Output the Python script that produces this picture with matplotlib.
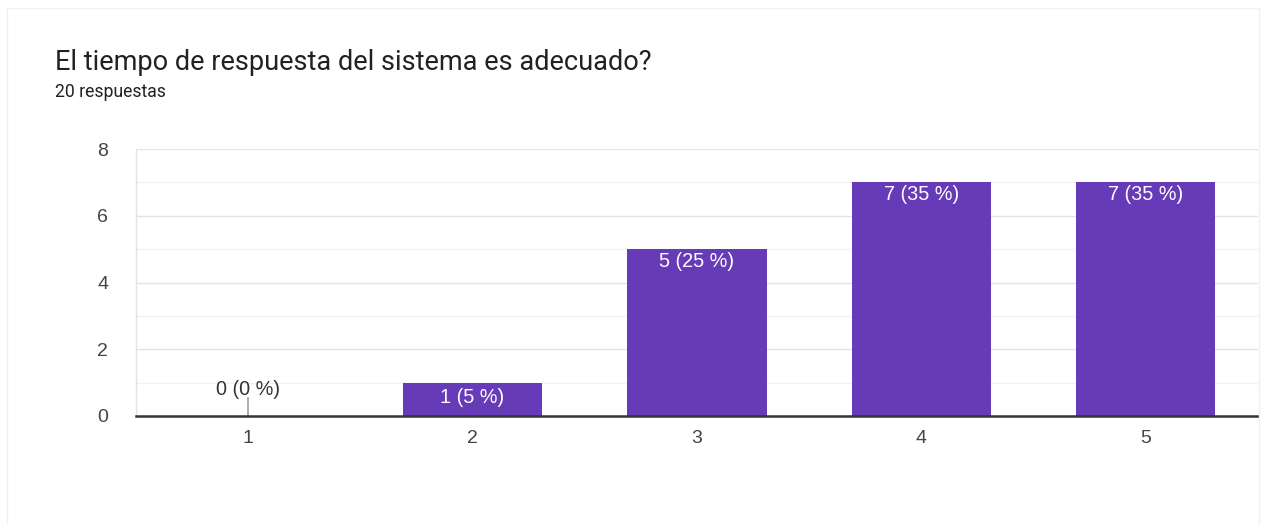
import matplotlib
matplotlib.use("Agg")
import matplotlib.pyplot as plt
from matplotlib.patches import Rectangle

# ── Data ──────────────────────────────────────────────────────────────────────
categories = ["1", "2", "3", "4", "5"]
counts = [0, 1, 5, 7, 7]
total_responses = 20
title = "El tiempo de respuesta del sistema es adecuado?"
subtitle = f"{total_responses} respuestas"

BAR_COLOR = "#673AB7"
TEXT_DARK = "#202124"
TICK_COLOR = "#444444"

fig = plt.figure(figsize=(12.61, 5.24), dpi=100)
fig.patch.set_facecolor("white")

# faint card border
fig.patches.append(Rectangle((7 / 1261, -0.01), 1252 / 1261, 1 - 8 / 524 + 0.01,
                             transform=fig.transFigure, fill=False,
                             edgecolor="#f0f0f0", linewidth=1.0))

fig.text(55 / 1261, 1 - 63 / 524, title, fontsize=19.5, family="Roboto",
         color=TEXT_DARK, va="center", ha="left")
fig.text(55 / 1261, 1 - 92 / 524, subtitle, fontsize=12.7, family="Roboto",
         color=TEXT_DARK, va="center", ha="left")

ax = fig.add_axes([136 / 1261, 108 / 524, 1122 / 1261, 267 / 524])
x = list(range(1, len(categories) + 1))

# grid lines: major at even values, minor at odd values
for v in range(1, 9):
    ax.axhline(v, color="#e3e3e3" if v % 2 == 0 else "#f1f1f1",
               linewidth=1.0, zorder=0)

bars = ax.bar(x, counts, width=0.62, color=BAR_COLOR, zorder=2)

for xi, c in zip(x, counts):
    pct = round(c / total_responses * 100)
    label = f"{c} ({pct} %)"
    if c == 0:
        ax.plot([xi, xi], [0, 0.55], color="#9e9e9e", linewidth=1.2, zorder=3)
        ax.text(xi, 0.8, label, ha="center", va="center", fontsize=14.3,
                family="Liberation Sans", color="#333333", zorder=4)
    else:
        # short bars get the label centred, tall ones near the top
        y_lab = c - 0.36 if c > 1 else c / 2 + 0.05
        ax.text(xi, y_lab, label, ha="center", va="center", fontsize=14.3,
                family="Liberation Sans", color="white", zorder=4)

ax.set_xlim(0.5, 5.5)
ax.set_ylim(0, 8)
ax.set_xticks(x)
ax.set_xticklabels(categories)
ax.set_yticks([0, 2, 4, 6, 8])
ax.tick_params(axis="both", length=0, labelsize=14, colors=TICK_COLOR)
ax.tick_params(axis="x", pad=10)
ax.tick_params(axis="y", pad=20)
for lbl in ax.get_xticklabels() + ax.get_yticklabels():
    lbl.set_family("Liberation Sans")

for side in ["top", "right"]:
    ax.spines[side].set_visible(False)
ax.spines["left"].set_color("#e3e3e3")
ax.spines["left"].set_linewidth(1.0)
ax.spines["bottom"].set_color("#333333")
ax.spines["bottom"].set_linewidth(1.8)
ax.spines["bottom"].set_zorder(5)

plt.savefig("out.png", dpi=100)
plt.close()
